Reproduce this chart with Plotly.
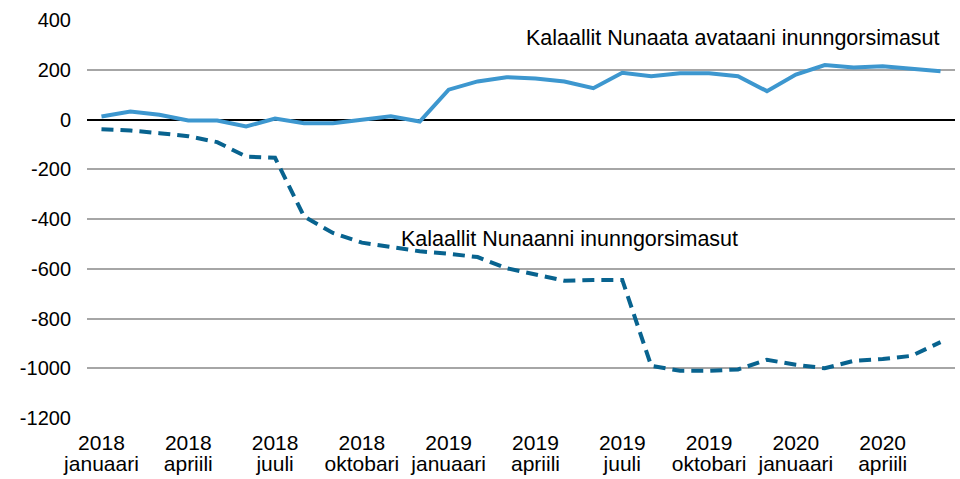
import plotly.graph_objects as go

months = [f"{y}-{m:02d}" for y in (2018, 2019, 2020) for m in range(1, 13)][:30]

abroad = [12, 32, 19, -4, -4, -28, 4, -15, -15, 0, 13, -8,
          120, 153, 170, 165, 153, 126, 188, 174, 186, 186, 174, 114,
          181, 219, 209, 214, 205, 194]
greenland = [-39, -44, -55, -67, -91, -149, -154, -390, -456, -495, -512, -530,
             -540, -553, -598, -625, -648, -645, -645, -990, -1010, -1010, -1005, -966,
             -986, -1000, -970, -963, -950, -895]

tick_idx = list(range(0, 30, 3))
tick_years = ["2018", "2018", "2018", "2018", "2019", "2019", "2019", "2019", "2020", "2020"]
tick_months = ["januaari", "apriili", "juuli", "oktobari", "januaari", "apriili", "juuli",
               "oktobari", "januaari", "apriili"]
y_ticks = [400, 200, 0, -200, -400, -600, -800, -1000, -1200]
y_text = ["400", "200", "0", "-200", "-400", "-600", "-800", "-1000", "-1200"]

label_abroad = "Kalaallit Nunaata avataani inunngorsimasut"
label_greenland = "Kalaallit Nunaanni inunngorsimasut"

idx = list(range(len(months)))

fig = go.Figure()
fig.add_trace(go.Scatter(x=idx, y=greenland, mode="lines",
                         line=dict(color="#08638f", width=4, dash="12px,7px"),
                         name=label_greenland, customdata=months))
fig.add_trace(go.Scatter(x=idx, y=abroad, mode="lines",
                         line=dict(color="#3d97cf", width=4),
                         name=label_abroad, customdata=months))
# month-name axis carrier (invisible)
fig.add_trace(go.Scatter(x=idx, y=abroad, mode="lines", xaxis="x2",
                         line=dict(width=0), opacity=0, hoverinfo="skip",
                         showlegend=False))

fig.add_annotation(x=29.05, y=326, xref="x", yref="y", text=label_abroad,
                   showarrow=False, xanchor="right", yanchor="middle",
                   font=dict(size=21.5, color="#000000"))
fig.add_annotation(x=10.28, y=-479, xref="x", yref="y", text=label_greenland,
                   showarrow=False, xanchor="left", yanchor="middle",
                   font=dict(size=21.5, color="#000000"))

fig.update_layout(
    width=960, height=479,
    margin=dict(l=87, r=5, t=20, b=61),
    paper_bgcolor="white", plot_bgcolor="white",
    showlegend=False,
    font=dict(family="Liberation Sans, Arial, sans-serif", size=20, color="#000000"),
    xaxis=dict(range=[-0.5, 29.5], tickmode="array", tickvals=tick_idx, ticktext=tick_years,
               showgrid=False, showline=False, zeroline=False, ticks="",
               tickfont=dict(size=21), ticklabelstandoff=10),
    xaxis2=dict(overlaying="x", anchor="y", side="bottom",
                range=[-0.5, 29.5], tickmode="array", tickvals=tick_idx, ticktext=tick_months,
                showgrid=False, showline=False, zeroline=False, ticks="",
                tickfont=dict(size=21), ticklabelstandoff=31),
    yaxis=dict(range=[-1200, 400], tickmode="array", tickvals=y_ticks, ticktext=y_text,
               showgrid=True, gridcolor="#a6a6a6", gridwidth=1.5,
               zeroline=True, zerolinecolor="#000000", zerolinewidth=2,
               showline=False, ticks="", tickfont=dict(size=20),
               ticklabelstandoff=15),
)

fig.write_html("out.html", config={"displayModeBar": False},
               post_script="document.body.style.margin='0';document.body.style.overflow='hidden';")
